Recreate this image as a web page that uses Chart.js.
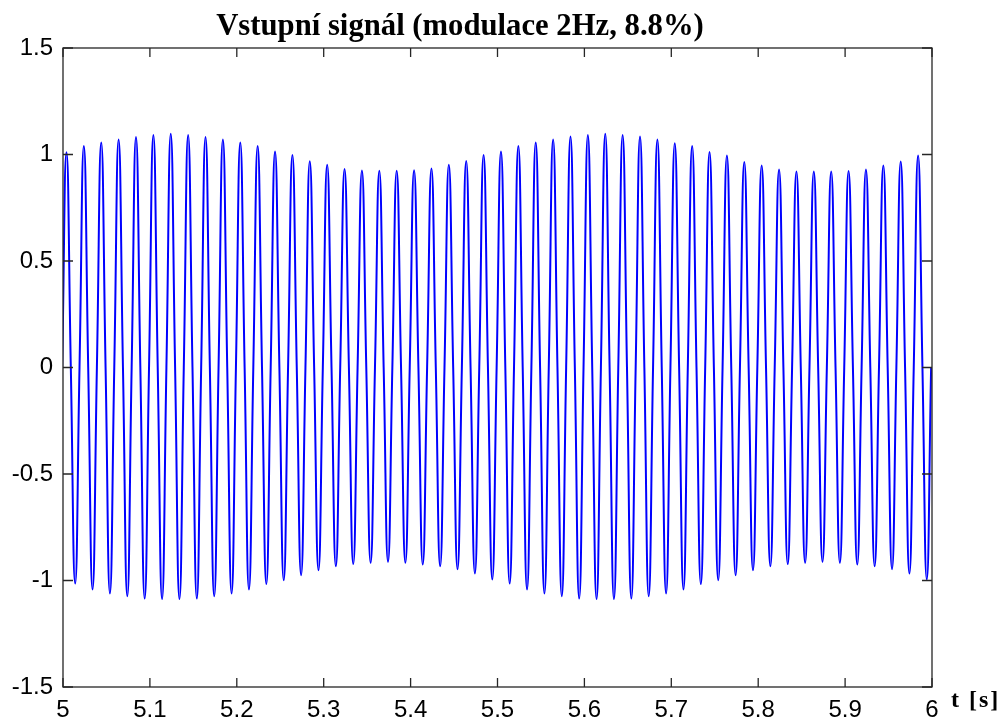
<!DOCTYPE html>
<html>
<head>
<meta charset="utf-8">
<title>Vstupní signál</title>
<script src="https://cdn.jsdelivr.net/npm/chart.js@4.4.1/dist/chart.umd.min.js"></script>
<style>
    html, body { margin: 0; padding: 0; background: #fff; }
    #wrap { width: 1006px; height: 722px; }
</style>
</head>
<body>
<div id="wrap"><canvas id="signalChart" width="1006" height="722"></canvas></div>
<script>
// průchody nulou směrem nahoru (začátek každé periody), v sekundách
var cycleStart = [4.999, 5.019, 5.039, 5.059, 5.079, 5.099, 5.119, 5.139, 5.159, 5.179,
                  5.199, 5.219, 5.239, 5.259, 5.279, 5.299, 5.319, 5.339, 5.359, 5.379,
                  5.399, 5.419, 5.439, 5.459, 5.479, 5.499, 5.519, 5.539, 5.559, 5.579,
                  5.599, 5.619, 5.639, 5.659, 5.679, 5.699, 5.719, 5.739, 5.759, 5.779,
                  5.799, 5.819, 5.839, 5.859, 5.879, 5.899, 5.919, 5.939, 5.959, 5.979];
var period = 0.02; // 50 Hz nosná

// kladné vrcholy jednotlivých period
var peakValues = [1.01, 1.04, 1.056, 1.07, 1.082, 1.092, 1.098, 1.092, 1.082, 1.07,
                  1.056, 1.04, 1.014, 0.998, 0.968, 0.952, 0.932, 0.925, 0.924, 0.924,
                  0.926, 0.934, 0.952, 0.97, 0.998, 1.014, 1.04, 1.056, 1.07, 1.084,
                  1.092, 1.098, 1.092, 1.084, 1.07, 1.053, 1.04, 1.012, 0.995, 0.965,
                  0.948, 0.93, 0.92, 0.92, 0.92, 0.922, 0.93, 0.948, 0.967, 0.995];

// záporné vrcholy
var troughValues = [-1.014, -1.042, -1.061, -1.074, -1.085, -1.087, -1.087, -1.085, -1.074, -1.061,
                    -1.042, -1.017, -0.999, -0.975, -0.952, -0.933, -0.923, -0.917, -0.912, -0.917,
                    -0.925, -0.933, -0.947, -0.967, -0.995, -1.014, -1.042, -1.061, -1.074, -1.085,
                    -1.087, -1.087, -1.085, -1.074, -1.061, -1.042, -1.017, -0.999, -0.975, -0.952,
                    -0.933, -0.923, -0.917, -0.912, -0.917, -0.925, -0.933, -0.947, -0.967, -0.995];

var xTicks = [5, 5.1, 5.2, 5.3, 5.4, 5.5, 5.6, 5.7, 5.8, 5.9, 6];
var yTicks = [-1.5, -1, -0.5, 0, 0.5, 1, 1.5];

var titleText = 'Vstupní signál (modulace 2Hz, 8.8%)';
var xLabelText = 't [s]';

// body průběhu: nula, vrchol, nula, minimum pro každou periodu
var points = [];
cycleStart.forEach(function(s, i) {
    points.push({ x: s, y: 0 });
    points.push({ x: s + period / 4, y: peakValues[i] });
    points.push({ x: s + period / 2, y: 0 });
    points.push({ x: s + 3 * period / 4, y: troughValues[i] });
});
points.push({ x: cycleStart[cycleStart.length - 1] + period, y: 0 });

// rámeček os, ticky dovnitř, nadpis a popisek osy x
var frame = {
    id: 'frame',
    afterDraw: function(chart) {
        var ctx = chart.ctx;
        var a = chart.chartArea;
        var xs = chart.scales.x;
        var ys = chart.scales.y;
        ctx.save();
        ctx.strokeStyle = '#262626';
        ctx.lineWidth = 1.3;
        ctx.strokeRect(a.left, a.top, a.right - a.left, a.bottom - a.top);
        ctx.beginPath();
        xTicks.forEach(function(v) {
            var px = xs.getPixelForValue(v);
            ctx.moveTo(px, a.bottom); ctx.lineTo(px, a.bottom - 9);
            ctx.moveTo(px, a.top); ctx.lineTo(px, a.top + 9);
        });
        yTicks.forEach(function(v) {
            var py = ys.getPixelForValue(v);
            ctx.moveTo(a.left, py); ctx.lineTo(a.left + 10, py);
            ctx.moveTo(a.right, py); ctx.lineTo(a.right - 10, py);
        });
        ctx.stroke();

        ctx.fillStyle = '#000';
        ctx.textBaseline = 'alphabetic';
        ctx.font = 'bold 30.7px "Liberation Serif"';
        ctx.textAlign = 'center';
        ctx.fillText(titleText, 460, 35);
        ctx.font = 'bold 24px "Liberation Serif"';
        ctx.letterSpacing = '2px';
        ctx.textAlign = 'left';
        ctx.fillText(xLabelText, 951, 707);
        ctx.restore();
    }
};

var ctx = document.getElementById('signalChart').getContext('2d');
var signalChart = new Chart(ctx, {
    type: 'line',
    data: {
        datasets: [{
            data: points,
            borderColor: '#0000ff',
            borderWidth: 2,
            pointRadius: 0,
            fill: false,
            tension: 0.5
        }]
    },
    options: {
        responsive: false,
        animation: false,
        layout: { padding: { top: 48, right: 74, bottom: 0, left: 0 } },
        plugins: {
            legend: { display: false },
            title: { display: false },
            tooltip: { enabled: false }
        },
        scales: {
            x: {
                type: 'linear',
                min: 5,
                max: 6,
                grid: { display: false, drawTicks: false },
                border: { display: false },
                afterBuildTicks: function(scale) {
                    scale.ticks = xTicks.map(function(v) { return { value: v }; });
                },
                afterFit: function(scale) { scale.height = 35; },
                ticks: {
                    color: '#000',
                    font: { family: 'Liberation Sans', size: 24 },
                    padding: 9,
                    maxRotation: 0,
                    autoSkip: false,
                    callback: function(v) { return String(v); }
                }
            },
            y: {
                type: 'linear',
                min: -1.5,
                max: 1.5,
                grid: { display: false, drawTicks: false },
                border: { display: false },
                afterBuildTicks: function(scale) {
                    scale.ticks = yTicks.map(function(v) { return { value: v }; });
                },
                afterFit: function(scale) { scale.width = 63; },
                ticks: {
                    color: '#000',
                    font: { family: 'Liberation Sans', size: 24 },
                    padding: 10,
                    autoSkip: false,
                    callback: function(v) { return String(v); }
                }
            }
        }
    },
    plugins: [frame]
});
</script>
</body>
</html>
